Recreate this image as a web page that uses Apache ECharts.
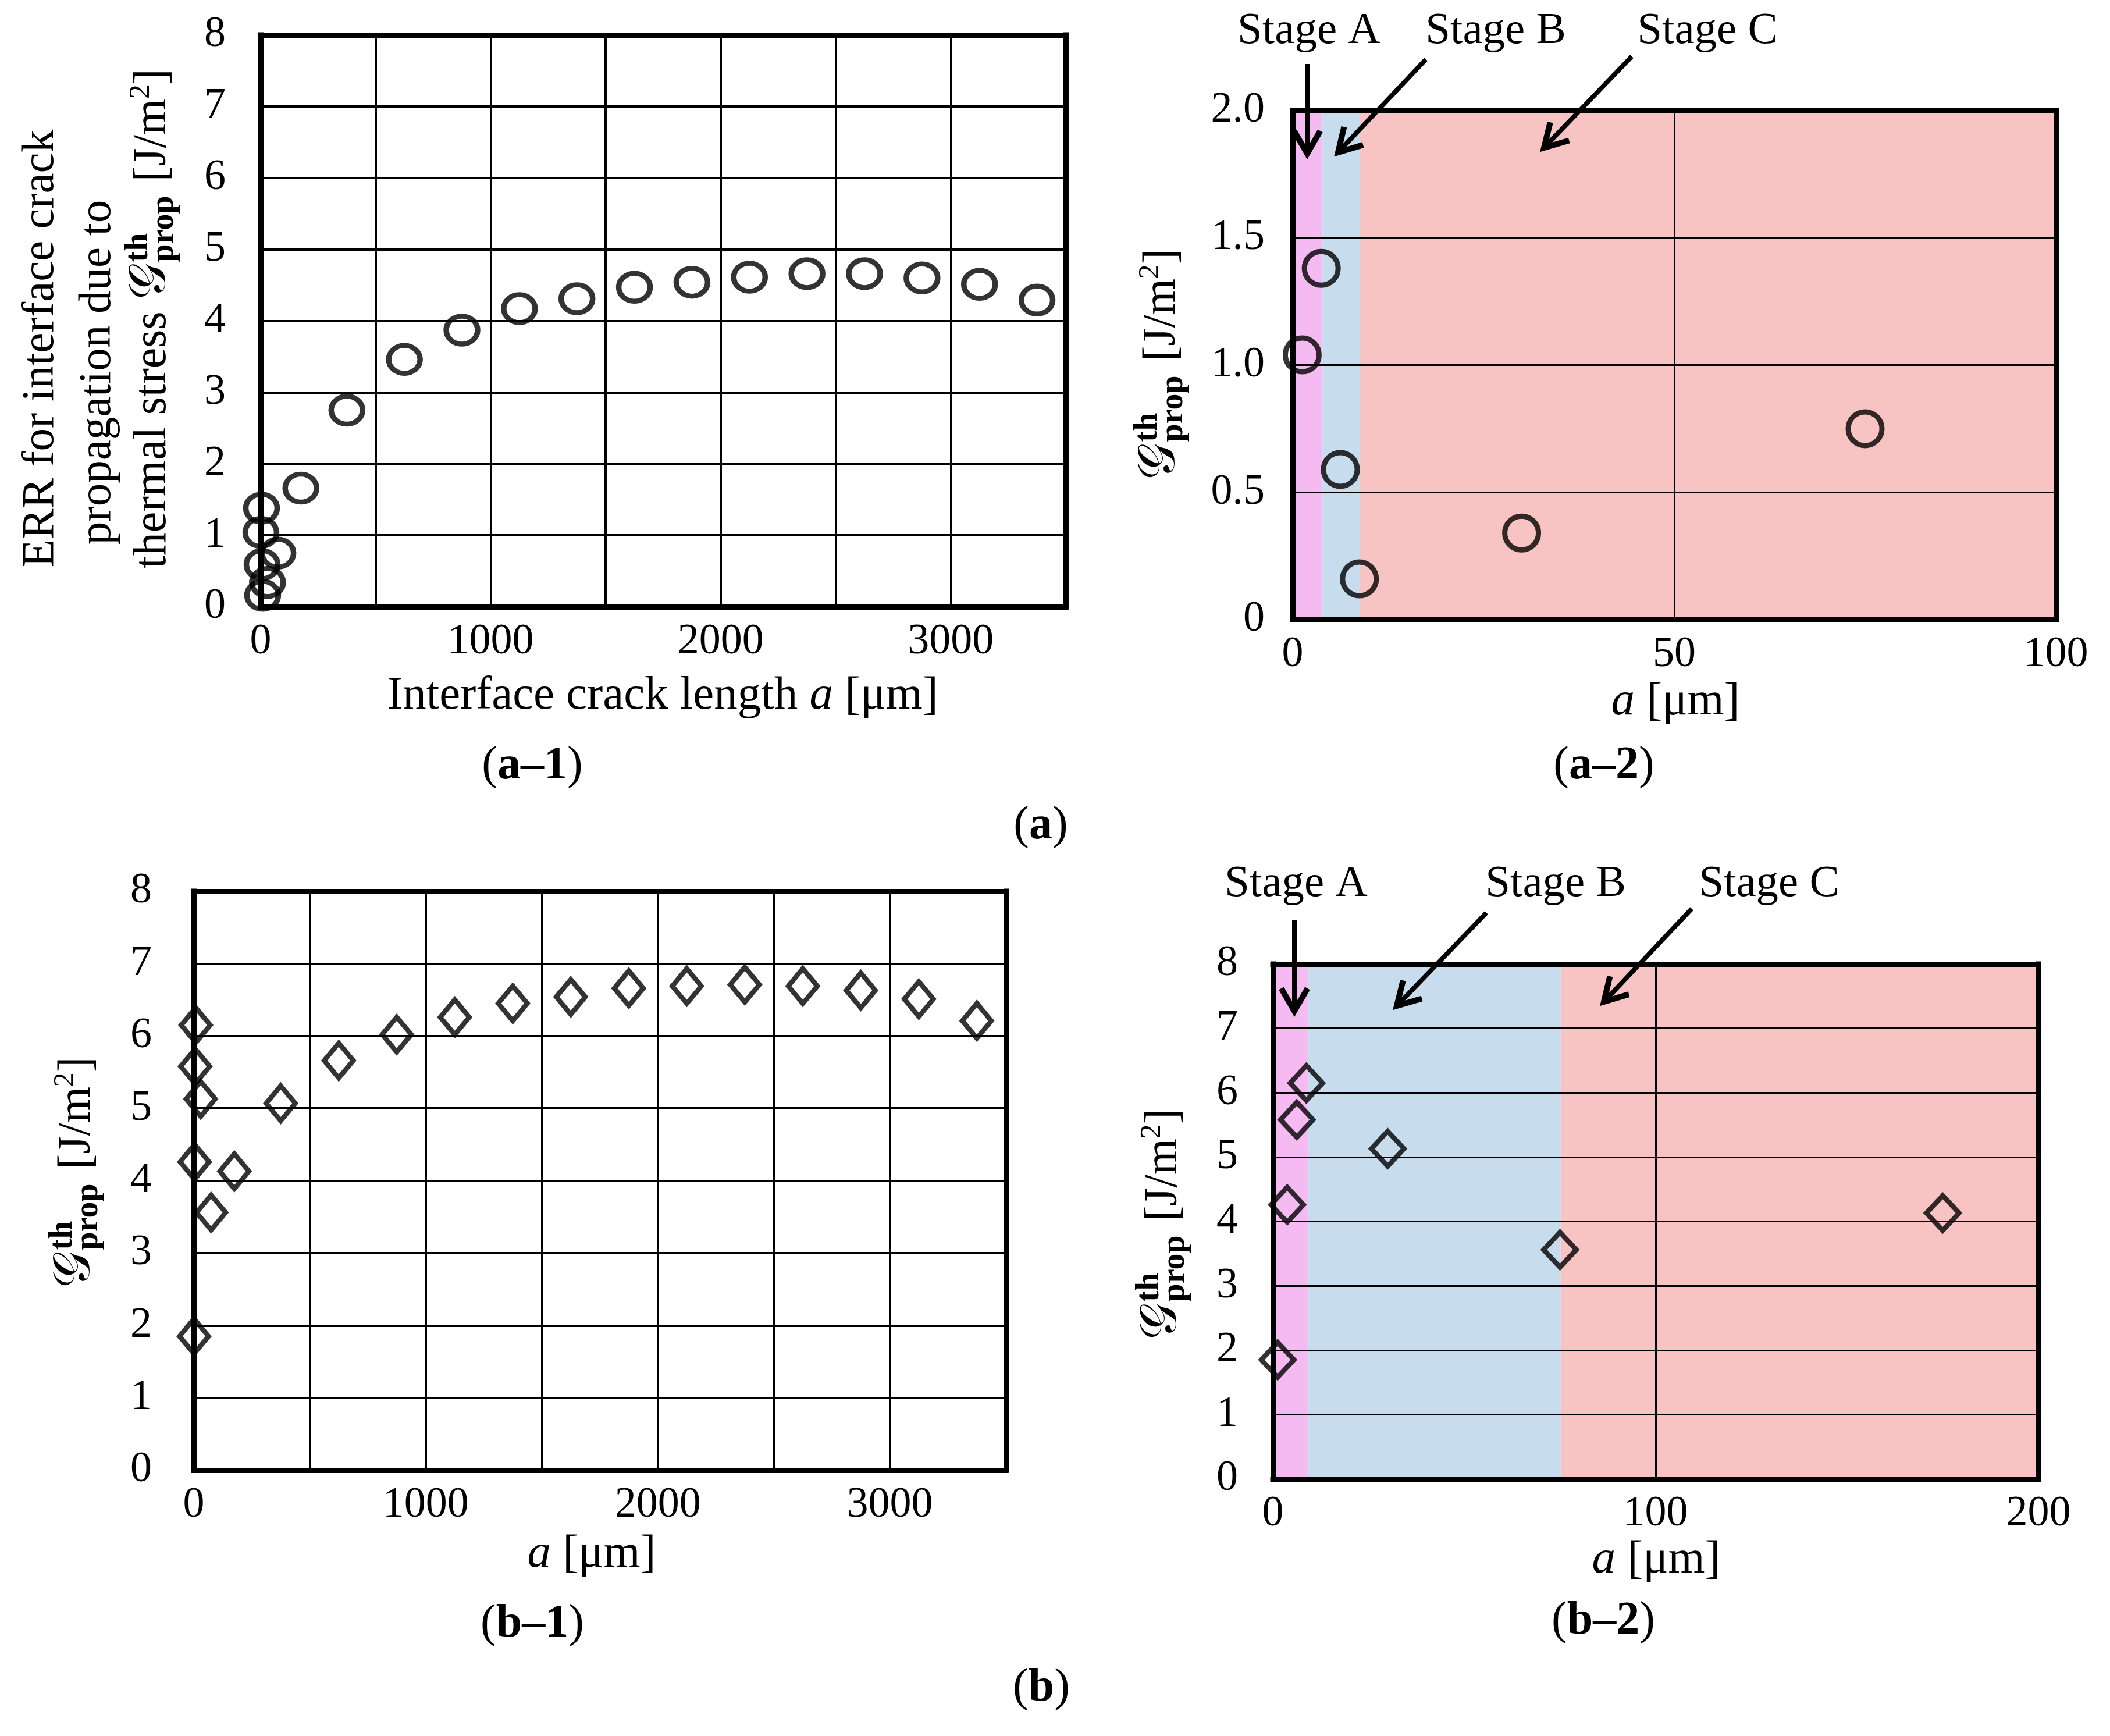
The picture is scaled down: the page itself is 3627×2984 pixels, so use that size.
<!DOCTYPE html>
<html>
<head>
<meta charset="utf-8">
<script src="https://cdn.jsdelivr.net/npm/echarts@6/dist/echarts.min.js"></script>
<style>html,body{margin:0;padding:0;background:#fff}#c{width:3627px;height:2984px}</style>
</head>
<body>
<div id="c"></div>
<script>
// ---------- data ----------
const crackLenA = [1.25, 3.75, 6.25, 8.75, 30, 75, 175, 375, 625, 875, 1125, 1375, 1625, 1875, 2125, 2375, 2625, 2875, 3125, 3375];
const errA      = [1.04, 1.38, 0.59, 0.16, 0.34, 0.75, 1.66, 2.75, 3.46, 3.87, 4.17, 4.31, 4.47, 4.54, 4.61, 4.66, 4.66, 4.60, 4.51, 4.29];
const crackLenB = [1.25, 3.75, 6.25, 8.75, 30, 75, 175, 375, 625, 875, 1125, 1375, 1625, 1875, 2125, 2375, 2625, 2875, 3125, 3375];
const errB      = [1.85, 4.26, 5.58, 6.15, 5.13, 3.56, 4.13, 5.07, 5.66, 6.02, 6.26, 6.45, 6.54, 6.66, 6.69, 6.71, 6.69, 6.63, 6.51, 6.21];
const stageEdgesA = [0, 3.9, 8.8, 100];
const stageEdgesB = [0, 9.1, 75.2, 200];
const stageNames  = ['Stage A', 'Stage B', 'Stage C'];
const stageColors = ['#f4baf1', '#c7ddee', '#f7c3c3'];
const wideXTicks  = [0, 1000, 2000, 3000];

// ---------- styling ----------
const FAM = "'Liberation Serif','DejaVu Serif',serif";
const K = 0.34; // middle-of-em offset above the baseline
const cv = document.createElement('canvas').getContext('2d');
function meas(font, t) { cv.font = font; return cv.measureText(t).width; }

const grids = [
  {left: 448,  top: 60,   width: 1384, height: 983},
  {left: 2222, top: 190,  width: 1312, height: 875},
  {left: 333,  top: 1532, width: 1396, height: 995},
  {left: 2188, top: 1657, width: 1316, height: 885}
];

const frameLine = {show: true, onZero: false, lineStyle: {color: '#000', width: 9, cap: 'square'}};
function labelStyle(margin, fmt) {
  return {show: true, margin: margin, color: '#000', fontSize: 74, fontFamily: FAM,
          showMinLabel: true, showMaxLabel: true, formatter: fmt};
}
const xAxes = [], yAxes = [];
function addAxes(gi, xmax, xint, xfmt, xMargin, ymax, yint, yfmt, yMargin, gridW) {
  xAxes.push({type: 'value', gridIndex: gi, min: 0, max: xmax, interval: xint, position: 'bottom', z: 3,
    axisLine: frameLine, axisTick: {show: false}, axisLabel: labelStyle(xMargin, xfmt),
    splitLine: {show: true, lineStyle: {color: '#000', width: gridW}}});
  xAxes.push({type: 'value', gridIndex: gi, min: 0, max: xmax, interval: xint, position: 'top', z: 3,
    axisLine: frameLine, axisTick: {show: false}, axisLabel: {show: false}, splitLine: {show: false}});
  yAxes.push({type: 'value', gridIndex: gi, min: 0, max: ymax, interval: yint, position: 'left', z: 3,
    axisLine: frameLine, axisTick: {show: false}, axisLabel: labelStyle(yMargin, yfmt),
    splitLine: {show: true, lineStyle: {color: '#000', width: gridW}}});
  yAxes.push({type: 'value', gridIndex: gi, min: 0, max: ymax, interval: yint, position: 'right', z: 3,
    axisLine: frameLine, axisTick: {show: false}, axisLabel: {show: false}, splitLine: {show: false}});
}
const wideFmt = v => (wideXTicks.indexOf(v) >= 0 ? String(v) : '');
const plainFmt = v => String(v);
const halfFmt = v => (v === 0 ? '0' : v.toFixed(1));
addAxes(0, 3500, 500, wideFmt, 24, 8, 1, plainFmt, 60, 4);
addAxes(1, 100, 50, plainFmt, 24, 2, 0.5, halfFmt, 48, 3);
addAxes(2, 3500, 500, wideFmt, 24, 8, 1, plainFmt, 72, 4);
addAxes(3, 200, 100, plainFmt, 24, 8, 1, plainFmt, 60, 3);

function pairs(xs, ys) { return xs.map((x, i) => [x, ys[i]]); }
function bands(edges) {
  const out = [];
  for (let i = 0; i < edges.length - 1; i++) {
    out.push([{xAxis: edges[i], itemStyle: {color: stageColors[i]}}, {xAxis: edges[i + 1]}]);
  }
  return out;
}
function bandSeries(ai, edges) {
  return {type: 'scatter', xAxisIndex: ai, yAxisIndex: ai, data: [], z: 1, silent: true,
          markArea: {silent: true, label: {show: false}, data: bands(edges)}};
}
function dataSeries(ai, xs, ys, symbol, size, bw) {
  return {type: 'scatter', xAxisIndex: ai, yAxisIndex: ai, data: pairs(xs, ys), z: 5, silent: true,
          symbol: symbol, symbolSize: size,
          itemStyle: {color: 'rgba(0,0,0,0)', borderColor: '#000', borderWidth: bw}};
}

const series = [
  bandSeries(2, stageEdgesA),
  bandSeries(6, stageEdgesB),
  dataSeries(0, crackLenA, errA, 'circle', [54, 48], 9),
  dataSeries(2, crackLenA, errA, 'circle', [58, 58], 9),
  dataSeries(4, crackLenB, errB, 'diamond', [50, 60], 8.5),
  dataSeries(6, crackLenB, errB, 'diamond', [56, 60], 8.5)
];

// ---------- text & annotation helpers ----------
function textEl(text, x, y, size, weight) {
  return {type: 'text', x: x, y: y, z: 10, silent: true,
    style: {text: text, font: (weight || 'normal') + ' ' + size + 'px ' + FAM, fill: '#000',
            textAlign: 'center', textVerticalAlign: 'middle', align: 'center', verticalAlign: 'middle'}};
}
function richEl(text, x, y, rich) {
  return {type: 'text', x: x, y: y, z: 10, silent: true,
    style: {text: text, rich: rich, fill: '#000', fontFamily: FAM, fontSize: 80,
            textAlign: 'center', textVerticalAlign: 'middle', align: 'center', verticalAlign: 'middle'}};
}
const richXT = {
  r: {fontFamily: FAM, fontSize: 81, fill: '#000'},
  i: {fontFamily: FAM, fontSize: 81, fontStyle: 'italic', fill: '#000'}
};
const richPanel = {
  r: {fontFamily: FAM, fontSize: 80, fill: '#000'},
  b: {fontFamily: FAM, fontSize: 80, fontWeight: 'bold', fill: '#000'}
};
function rotLine(text, baseX, centerY, size) {
  const font = size + 'px ' + FAM;
  const w = meas(font, text);
  return {type: 'group', x: baseX, y: centerY, rotation: Math.PI / 2, silent: true, z: 10,
    children: [{type: 'text', x: -w / 2, y: -K * size, z: 10,
      style: {text: text, font: font, fill: '#000', textAlign: 'left', textVerticalAlign: 'middle', align: 'left', verticalAlign: 'middle'}}]};
}
function gLabel(prefix, baseX, centerY) {
  const M = 80, S = 56, P = 50, G = 88;
  const fMain = M + 'px ' + FAM, fG = G + 'px ' + FAM, fScr = 'bold ' + S + 'px ' + FAM, fSup = P + 'px ' + FAM;
  const items = [];
  let x = 0;
  const add = (t, font, fs, dy) => { items.push({t, font, fs, x, dy}); x += meas(font, t); };
  if (prefix) add(prefix, fMain, M, 0);
  add('\u{1D4A2}', fG, G, 0);
  items.push({t: 'th', font: fScr, fs: S, x: x + 2, dy: -0.4 * M});
  items.push({t: 'prop', font: fScr, fs: S, x: x + 2, dy: 0.14 * M});
  x += Math.max(meas(fScr, 'th'), meas(fScr, 'prop')) + 6;
  add(' [J/m', fMain, M, 0);
  add('2', fSup, P, -0.38 * M);
  add(']', fMain, M, 0);
  const W = x;
  return {type: 'group', x: baseX, y: centerY, rotation: Math.PI / 2, silent: true, z: 10,
    children: items.map(it => ({type: 'text', x: it.x - W / 2, y: it.dy - K * it.fs, z: 10,
      style: {text: it.t, font: it.font, fill: '#000', textAlign: 'left', textVerticalAlign: 'middle', align: 'left', verticalAlign: 'middle'}}))};
}
function arrow(x1, y1, x2, y2) {
  const L = 45, ang = Math.PI / 6;
  const dx = x2 - x1, dy = y2 - y1, len = Math.hypot(dx, dy);
  const ux = dx / len, uy = dy / len;
  const wing = s => [x2 - L * (ux * Math.cos(ang) - s * uy * Math.sin(ang)),
                     y2 - L * (uy * Math.cos(ang) + s * ux * Math.sin(ang))];
  return [
    {type: 'line', z: 10, silent: true, shape: {x1: x1, y1: y1, x2: x2, y2: y2}, style: {stroke: '#000', lineWidth: 8}},
    {type: 'polyline', z: 10, silent: true, shape: {points: [wing(1), [x2, y2], wing(-1)]},
     style: {stroke: '#000', lineWidth: 10, fill: null, lineJoin: 'miter'}}
  ];
}

const graphics = [];
// stage labels and arrows
const stageTextA = [[2250, 54], [2571, 54], [2935, 54]];
const stageTextB = [[2228, 1520], [2674, 1520], [3041, 1520]];
stageNames.forEach((s, i) => {
  graphics.push(textEl(s, stageTextA[i][0], stageTextA[i][1], 77));
  graphics.push(textEl(s, stageTextB[i][0], stageTextB[i][1], 77));
});
[[2247, 110, 2247, 264], [2451, 102, 2300, 262], [2805, 97, 2654, 254],
 [2225, 1582, 2225, 1738], [2555, 1569, 2401, 1729], [2908, 1562, 2757, 1722]].forEach(a => {
  arrow(a[0], a[1], a[2], a[3]).forEach(e => graphics.push(e));
});
// y-axis titles
graphics.push(rotLine('ERR for interface crack', 97, 599, 79));
graphics.push(rotLine('propagation due to', 195, 640, 79));
graphics.push(gLabel('thermal stress ', 290, 548));
graphics.push(gLabel('', 2025, 626));
graphics.push(gLabel('', 160, 2015));
graphics.push(gLabel('', 2028, 2104));
// x-axis titles
graphics.push(richEl('{r|Interface crack length }{i|a}{r| [\u03bcm]}', 1139, 1197, richXT));
graphics.push(richEl('{i|a}{r| [\u03bcm]}', 2880, 1207, richXT));
graphics.push(richEl('{i|a}{r| [\u03bcm]}', 1017, 2672, richXT));
graphics.push(richEl('{i|a}{r| [\u03bcm]}', 2847, 2682, richXT));
// panel labels
graphics.push(richEl('{r|(}{b|a\u20131}{r|)}', 915, 1317, richPanel));
graphics.push(richEl('{r|(}{b|a\u20132}{r|)}', 2757, 1317, richPanel));
graphics.push(richEl('{r|(}{b|a}{r|)}', 1789, 1420, richPanel));
graphics.push(richEl('{r|(}{b|b\u20131}{r|)}', 915, 2792, richPanel));
graphics.push(richEl('{r|(}{b|b\u20132}{r|)}', 2756, 2787, richPanel));
graphics.push(richEl('{r|(}{b|b}{r|)}', 1790, 2902, richPanel));

const chart = echarts.init(document.getElementById('c'), null, {renderer: 'canvas', devicePixelRatio: 1});
chart.setOption({
  animation: false,
  backgroundColor: '#fff',
  grid: grids.map(g => Object.assign({containLabel: false, outerBoundsMode: 'none'}, g)),
  xAxis: xAxes,
  yAxis: yAxes,
  series: series,
  graphic: {elements: graphics}
});
</script>
</body>
</html>
